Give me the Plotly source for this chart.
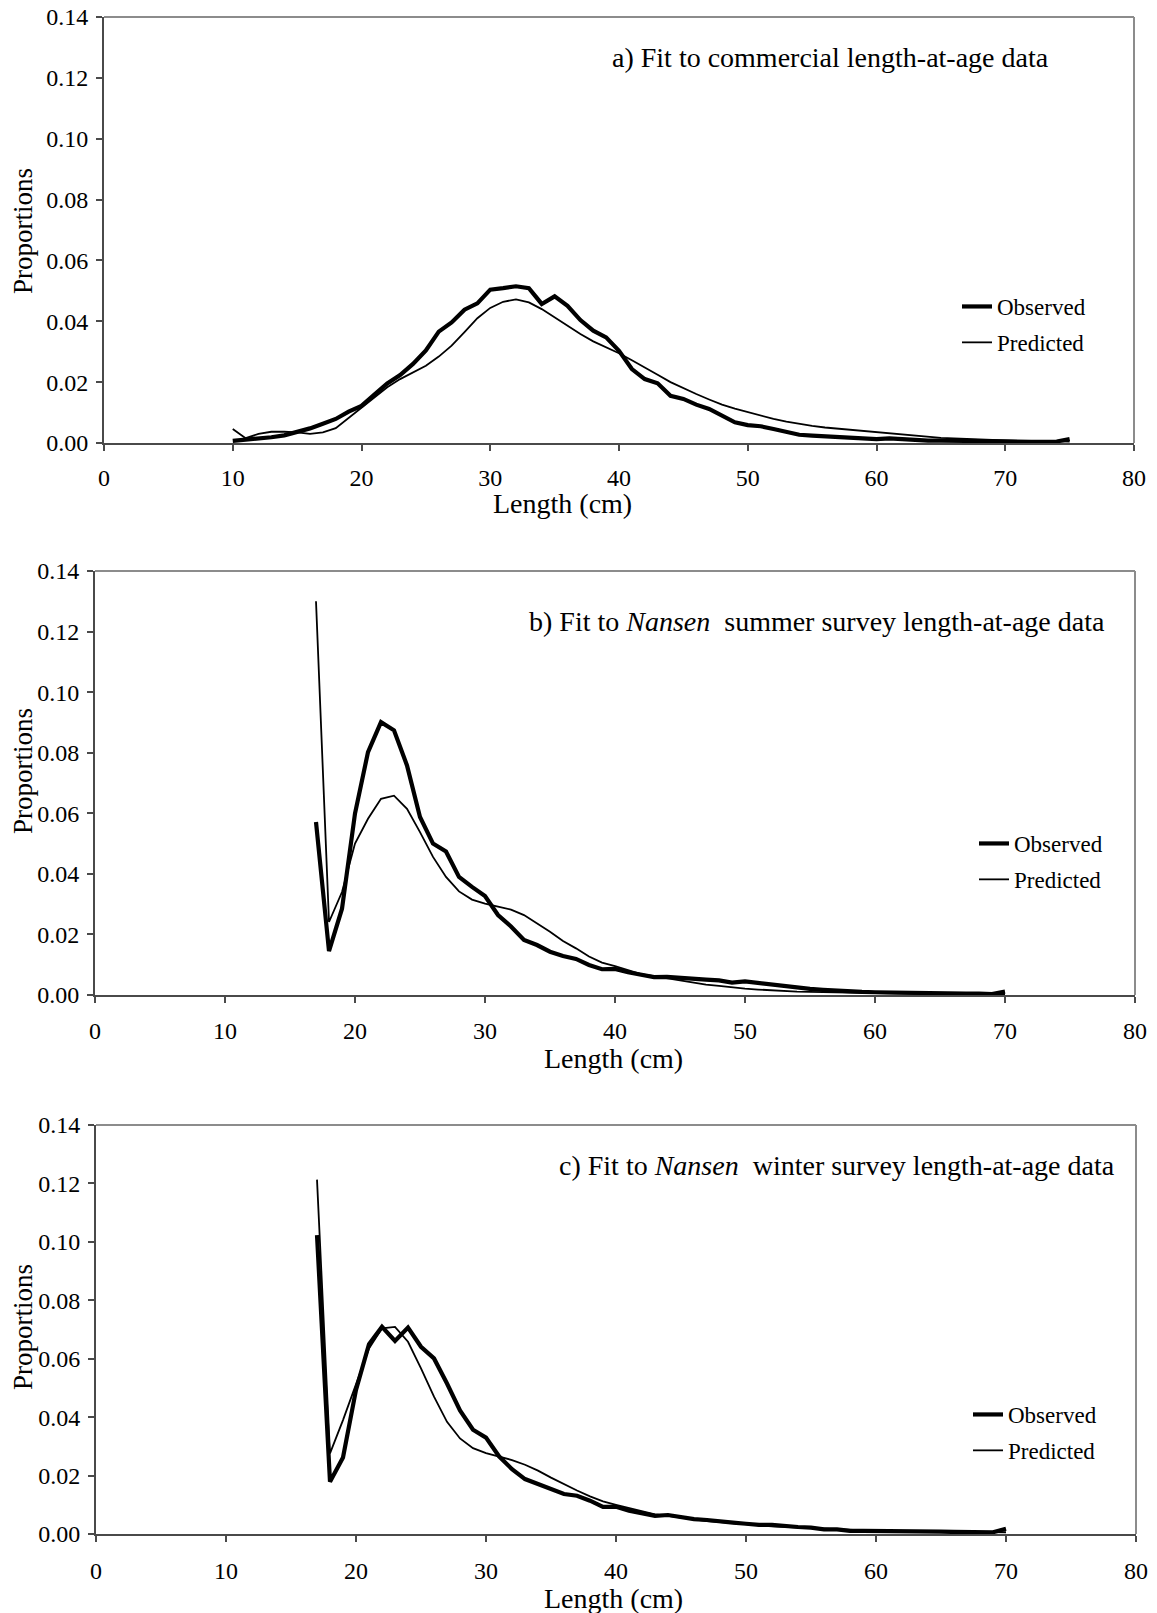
import plotly.graph_objects as go

# ---------------- data ----------------
LENGTH_A = list(range(10, 76))
OBSERVED_A = [0.0007, 0.0010, 0.0016, 0.0019, 0.0025, 0.0035, 0.0048, 0.0063, 0.0079, 0.0103,
              0.0122, 0.0159, 0.0196, 0.0223, 0.0260, 0.0304, 0.0366, 0.0396, 0.0438, 0.0459,
              0.0504, 0.0509, 0.0515, 0.0509, 0.0457, 0.0482, 0.0451, 0.0404, 0.0369, 0.0347,
              0.0303, 0.0243, 0.0210, 0.0196, 0.0155, 0.0145, 0.0126, 0.0112, 0.0090, 0.0068,
              0.0059, 0.0055, 0.0046, 0.0035, 0.0027, 0.0024, 0.0022, 0.0020, 0.0018, 0.0015,
              0.0013, 0.0015, 0.0012, 0.0010, 0.0008, 0.0008, 0.0007, 0.0007, 0.0005, 0.0005,
              0.0005, 0.0004, 0.0004, 0.0004, 0.0005, 0.0013]
PREDICTED_A = [0.0046, 0.0016, 0.0030, 0.0037, 0.0037, 0.0035, 0.0030, 0.0035, 0.0049, 0.0082,
               0.0117, 0.0150, 0.0183, 0.0210, 0.0232, 0.0254, 0.0284, 0.0320, 0.0364, 0.0410,
               0.0444, 0.0464, 0.0472, 0.0462, 0.0440, 0.0413, 0.0386, 0.0358, 0.0334, 0.0314,
               0.0295, 0.0272, 0.0249, 0.0224, 0.0200, 0.0180, 0.0161, 0.0143, 0.0126, 0.0113,
               0.0101, 0.0090, 0.0079, 0.0070, 0.0062, 0.0056, 0.0051, 0.0047, 0.0044, 0.0040,
               0.0035, 0.0031, 0.0027, 0.0023, 0.0019, 0.0017, 0.0015, 0.0013, 0.0011, 0.0009,
               0.0008, 0.0007, 0.0007, 0.0006, 0.0005, 0.0005]

LENGTH_B = list(range(17, 71))
OBSERVED_B = [0.0571, 0.0145, 0.0285, 0.0599, 0.0802, 0.0901, 0.0874, 0.0758, 0.0588, 0.0500,
              0.0474, 0.0390, 0.0357, 0.0327, 0.0264, 0.0226, 0.0182, 0.0165, 0.0143, 0.0129,
              0.0119, 0.0099, 0.0085, 0.0086, 0.0075, 0.0068, 0.0059, 0.0060, 0.0056, 0.0053,
              0.0051, 0.0048, 0.0041, 0.0045, 0.0040, 0.0034, 0.0029, 0.0022, 0.0020, 0.0017,
              0.0014, 0.0012, 0.0010, 0.0009, 0.0008, 0.0007, 0.0006, 0.0006, 0.0006, 0.0005,
              0.0005, 0.0005, 0.0003, 0.0011]
PREDICTED_B = [0.1300, 0.0241, 0.0340, 0.0500, 0.0582, 0.0648, 0.0658, 0.0615, 0.0538, 0.0456,
               0.0390, 0.0342, 0.0315, 0.0302, 0.0292, 0.0282, 0.0264, 0.0237, 0.0209, 0.0178,
               0.0154, 0.0127, 0.0107, 0.0095, 0.0083, 0.0069, 0.0062, 0.0055, 0.0046, 0.0039,
               0.0034, 0.0030, 0.0025, 0.0021, 0.0018, 0.0015, 0.0013, 0.0011, 0.0010, 0.0009,
               0.0008, 0.0007, 0.0007, 0.0006, 0.0005, 0.0005, 0.0004, 0.0004, 0.0004, 0.0003,
               0.0003, 0.0003, 0.0003, 0.0003]

LENGTH_C = list(range(17, 71))
OBSERVED_C = [0.1023, 0.0179, 0.0262, 0.0493, 0.0650, 0.0709, 0.0661, 0.0707, 0.0641, 0.0601,
              0.0515, 0.0423, 0.0357, 0.0330, 0.0266, 0.0222, 0.0188, 0.0171, 0.0154, 0.0137,
              0.0131, 0.0114, 0.0093, 0.0093, 0.0080, 0.0072, 0.0062, 0.0065, 0.0057, 0.0051,
              0.0048, 0.0042, 0.0039, 0.0035, 0.0031, 0.0031, 0.0026, 0.0024, 0.0022, 0.0016,
              0.0016, 0.0011, 0.0011, 0.0011, 0.0010, 0.0009, 0.0009, 0.0008, 0.0008, 0.0007,
              0.0007, 0.0007, 0.0006, 0.0018]
PREDICTED_C = [0.1213, 0.0276, 0.0390, 0.0515, 0.0635, 0.0704, 0.0709, 0.0658, 0.0567, 0.0470,
               0.0384, 0.0327, 0.0294, 0.0277, 0.0264, 0.0253, 0.0237, 0.0217, 0.0193, 0.0170,
               0.0149, 0.0129, 0.0112, 0.0100, 0.0089, 0.0076, 0.0067, 0.0062, 0.0056, 0.0050,
               0.0044, 0.0041, 0.0038, 0.0033, 0.0030, 0.0026, 0.0024, 0.0022, 0.0019, 0.0017,
               0.0016, 0.0014, 0.0013, 0.0011, 0.0010, 0.0010, 0.0009, 0.0009, 0.0008, 0.0008,
               0.0007, 0.0007, 0.0006, 0.0006]

TITLES = ["a) Fit to commercial length-at-age data",
          "b) Fit to <i>Nansen</i>  summer survey length-at-age data",
          "c) Fit to <i>Nansen</i>  winter survey length-at-age data"]
SERIES_NAMES = ["Observed", "Predicted"]
X_TICKS = [0, 10, 20, 30, 40, 50, 60, 70, 80]
Y_TICKS = [0.00, 0.02, 0.04, 0.06, 0.08, 0.10, 0.12, 0.14]
X_TITLE = "Length (cm)"
Y_TITLE = "Proportions"

# ---------------- layout geometry (pixels) ----------------
W, H = 1157, 1613
FONT = "Liberation Serif, Times New Roman, serif"

def px_x(p):
    return p / W

def px_y(p):
    return 1 - p / H

panels = [
    dict(x=(104, 1134), y=(17, 443), data=(LENGTH_A, OBSERVED_A, PREDICTED_A),
         title_xy=(830, 58), xt_xy=(562, 504), yt_y=231, leg=(957, 285), xstand=6),
    dict(x=(95, 1135), y=(571, 995), data=(LENGTH_B, OBSERVED_B, PREDICTED_B),
         title_xy=(817, 621), xt_xy=(613, 1058), yt_y=771, leg=(974, 822), xstand=7),
    dict(x=(96, 1136), y=(1125, 1534), data=(LENGTH_C, OBSERVED_C, PREDICTED_C),
         title_xy=(837, 1165), xt_xy=(613, 1598), yt_y=1327, leg=(968, 1393), xstand=8),
]

fig = go.Figure()
annotations = []
shapes = []

for i, p in enumerate(panels, start=1):
    sfx = "" if i == 1 else str(i)
    xref, yref = "x" + sfx, "y" + sfx
    leg = "legend" if i == 1 else "legend" + str(i)
    lx, obs, pred = p["data"]
    fig.add_trace(go.Scatter(x=lx, y=obs, mode="lines", name=SERIES_NAMES[0],
                             line=dict(color="black", width=4.2), xaxis=xref, yaxis=yref,
                             legend=leg, legendgroup="obs%d" % i))
    fig.add_trace(go.Scatter(x=lx, y=pred, mode="lines", name=SERIES_NAMES[1],
                             line=dict(color="black", width=1.8), xaxis=xref, yaxis=yref,
                             legend=leg, legendgroup="pred%d" % i))

    axis_common = dict(showgrid=False, zeroline=False, showline=True, linecolor="#4a4a4a",
                       linewidth=2, ticks="outside", ticklen=6, tickwidth=1.5, tickcolor="#4a4a4a",
                       tickfont=dict(family=FONT, size=24, color="black"))
    fig.layout["xaxis" + sfx] = dict(
        domain=[px_x(p["x"][0]), px_x(p["x"][1])], range=[0, 80], tickvals=X_TICKS,
        anchor=yref, ticklabelstandoff=p["xstand"], **axis_common)
    fig.layout["yaxis" + sfx] = dict(
        domain=[px_y(p["y"][1]), px_y(p["y"][0])], range=[0, 0.14], tickvals=Y_TICKS,
        tickformat=".2f", anchor=xref, ticklabelstandoff=3, **axis_common)

    # light grey top and right frame
    shapes.append(dict(type="line", xref=xref + " domain", yref=yref + " domain",
                       x0=0, x1=1, y0=1, y1=1, line=dict(color="#8c8c8c", width=2)))
    shapes.append(dict(type="line", xref=xref + " domain", yref=yref + " domain",
                       x0=1, x1=1, y0=0, y1=1, line=dict(color="#8c8c8c", width=2)))

    annotations.append(dict(text=TITLES[i - 1], x=px_x(p["title_xy"][0]), y=px_y(p["title_xy"][1]),
                            xref="paper", yref="paper", xanchor="center", yanchor="middle",
                            showarrow=False, font=dict(family=FONT, size=28, color="black")))
    annotations.append(dict(text=X_TITLE, x=px_x(p["xt_xy"][0]), y=px_y(p["xt_xy"][1]),
                            xref="paper", yref="paper",
                            xanchor="center", yanchor="middle", showarrow=False,
                            font=dict(family=FONT, size=28, color="black")))
    annotations.append(dict(text=Y_TITLE, x=px_x(23), y=px_y(p["yt_y"]), xref="paper", yref="paper",
                            xanchor="center", yanchor="middle", textangle=-90, showarrow=False,
                            font=dict(family=FONT, size=27, color="black")))

    fig.layout[leg] = dict(x=px_x(p["leg"][0]), y=px_y(p["leg"][1]), xanchor="left", yanchor="top",
                           bgcolor="rgba(0,0,0,0)", borderwidth=0, tracegroupgap=3,
                           font=dict(family=FONT, size=23, color="black"))

fig.update_layout(width=W, height=H, margin=dict(l=0, r=0, t=0, b=0, autoexpand=False),
                  paper_bgcolor="white", plot_bgcolor="white", showlegend=True,
                  annotations=annotations, shapes=shapes,
                  font=dict(family=FONT, color="black"))

fig.write_html("out.html", config={"displayModeBar": False},
               post_script="document.body.style.margin='0';")
